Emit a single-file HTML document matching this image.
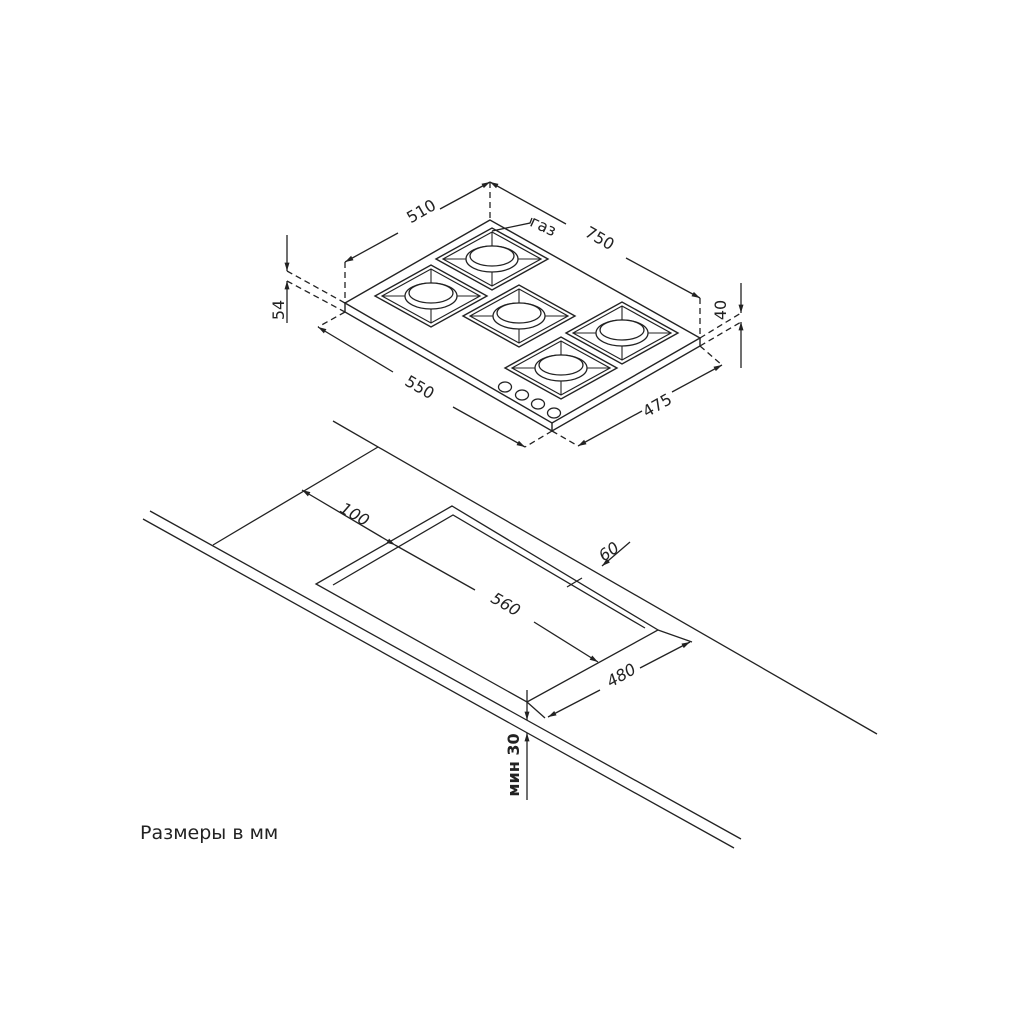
<!DOCTYPE html>
<html><head><meta charset="utf-8"><style>
html,body{margin:0;padding:0;background:#fff;}
svg{display:block}
text{font-family:"DejaVu Sans","Liberation Sans",sans-serif;fill:#222}
</style></head><body>
<svg width="1024" height="1024" viewBox="0 0 1024 1024" xmlns="http://www.w3.org/2000/svg">
<defs>
<marker id="a" viewBox="0 0 10 6" refX="10" refY="3" markerWidth="10" markerHeight="5" orient="auto-start-reverse" markerUnits="userSpaceOnUse"><path d="M0,0L10,3L0,6z" fill="#222"/></marker>
<g id="bur">
<polygon points="-56,0 0,-31 56,0 0,31" fill="#fff" stroke="#222" stroke-width="1.4"/>
<polygon points="-49,0 0,-27 49,0 0,27" fill="none" stroke="#222" stroke-width="1.2"/>
<line x1="-49" y1="0" x2="49" y2="0" stroke="#222" stroke-width="1.1"/>
<line x1="0" y1="-27" x2="0" y2="27" stroke="#222" stroke-width="1.1"/>
<ellipse cx="0" cy="0" rx="26" ry="13" fill="#fff" stroke="#222" stroke-width="1.3"/>
<ellipse cx="0" cy="-3" rx="22" ry="10" fill="#fff" stroke="#222" stroke-width="1.3"/>
</g>
</defs>
<g stroke="#222" stroke-width="1.4" fill="none">
<polygon points="490,220 345,303 552,423 700,338" fill="#fff"/>
<polyline points="345,303 345,312 552,431 700,346 700,338"/>
<line x1="552" y1="423" x2="552" y2="431"/>
</g>
<use href="#bur" x="492" y="259"/>
<use href="#bur" x="431" y="296"/>
<use href="#bur" x="519" y="316"/>
<use href="#bur" x="622" y="333"/>
<use href="#bur" x="561" y="368"/>
<g stroke="#222" stroke-width="1.3" fill="#fff">
<ellipse cx="505" cy="387" rx="6.5" ry="5"/><ellipse cx="522" cy="395" rx="6.5" ry="5"/>
<ellipse cx="538" cy="404" rx="6.5" ry="5"/><ellipse cx="554" cy="413" rx="6.5" ry="5"/>
</g>
<g stroke="#222" stroke-width="1.3" fill="none">
<g stroke-dasharray="6,4">
<line x1="345" y1="262" x2="345" y2="303"/>
<line x1="490" y1="182" x2="490" y2="220"/>
<line x1="700" y1="298" x2="700" y2="338"/>
<line x1="287" y1="271" x2="345" y2="303"/>
<line x1="287" y1="281" x2="345" y2="312"/>
<line x1="700" y1="338" x2="741" y2="313"/>
<line x1="700" y1="346" x2="741" y2="322"/>
<line x1="345" y1="312" x2="318" y2="327"/>
<line x1="552" y1="431" x2="525" y2="447"/>
<line x1="552" y1="431" x2="578" y2="446"/>
<line x1="700" y1="346" x2="722" y2="365"/>
</g>
<line x1="345" y1="262" x2="398" y2="233" marker-start="url(#a)"/>
<line x1="440" y1="209" x2="490" y2="182" marker-end="url(#a)"/>
<line x1="490" y1="182" x2="566" y2="224" marker-start="url(#a)"/>
<line x1="626" y1="258" x2="700" y2="298" marker-end="url(#a)"/>
<line x1="287" y1="235" x2="287" y2="271" marker-end="url(#a)"/>
<line x1="287" y1="323" x2="287" y2="281" marker-end="url(#a)"/>
<line x1="741" y1="283" x2="741" y2="313" marker-end="url(#a)"/>
<line x1="741" y1="368" x2="741" y2="322" marker-end="url(#a)"/>
<line x1="318" y1="327" x2="393" y2="372" marker-start="url(#a)"/>
<line x1="453" y1="407" x2="525" y2="447" marker-end="url(#a)"/>
<line x1="578" y1="446" x2="642" y2="411" marker-start="url(#a)"/>
<line x1="672" y1="392" x2="722" y2="365" marker-end="url(#a)"/>
<polyline points="492,231 530,223 532,218"/>
<line x1="333" y1="421" x2="877" y2="734"/>
<line x1="150" y1="511" x2="741" y2="839"/>
<line x1="143" y1="519" x2="734" y2="848"/>
<line x1="213" y1="545" x2="378" y2="447"/>
<polygon points="452,506 316,584 527,702 658,630"/>
<polyline points="333,585 453,515 645,628"/>
<line x1="302" y1="490" x2="395" y2="545" marker-start="url(#a)" marker-end="url(#a)"/>
<line x1="395" y1="545" x2="475" y2="590"/>
<line x1="534" y1="622" x2="598" y2="662" marker-end="url(#a)"/>
<line x1="567" y1="587" x2="582" y2="578"/>
<line x1="630" y1="542" x2="602" y2="566" marker-end="url(#a)"/>
<line x1="658" y1="630" x2="692" y2="642"/>
<line x1="527" y1="702" x2="545" y2="718"/>
<line x1="548" y1="717" x2="600" y2="690" marker-start="url(#a)"/>
<line x1="640" y1="668" x2="690" y2="642" marker-end="url(#a)"/>
<line x1="527" y1="690" x2="527" y2="720" marker-end="url(#a)"/>
<line x1="527" y1="800" x2="527" y2="733" marker-end="url(#a)"/>
</g>
<g font-size="16">
<text transform="translate(424,216) rotate(-30)" text-anchor="middle">510</text>
<text transform="translate(597,243) rotate(30)" text-anchor="middle">750</text>
<text transform="translate(284,310) rotate(-90)" text-anchor="middle">54</text>
<text transform="translate(726,310) rotate(-90)" text-anchor="middle">40</text>
<text transform="translate(417,392) rotate(30)" text-anchor="middle">550</text>
<text transform="translate(660,410) rotate(-30)" text-anchor="middle">475</text>
<text transform="translate(541,231) rotate(25)" text-anchor="middle">газ</text>
<text transform="translate(352,519) rotate(30)" text-anchor="middle" font-style="italic">100</text>
<text transform="translate(503,609) rotate(30)" text-anchor="middle" font-style="italic">560</text>
<text transform="translate(612,556) rotate(-35)" text-anchor="middle" font-style="italic">60</text>
<text transform="translate(624,680) rotate(-30)" text-anchor="middle" font-style="italic">480</text>
<text transform="translate(519,765) rotate(-90)" text-anchor="middle" font-weight="bold">мин 30</text>
</g>
<text x="140" y="839" font-size="19">Размеры в мм</text>
</svg>
</body></html>
